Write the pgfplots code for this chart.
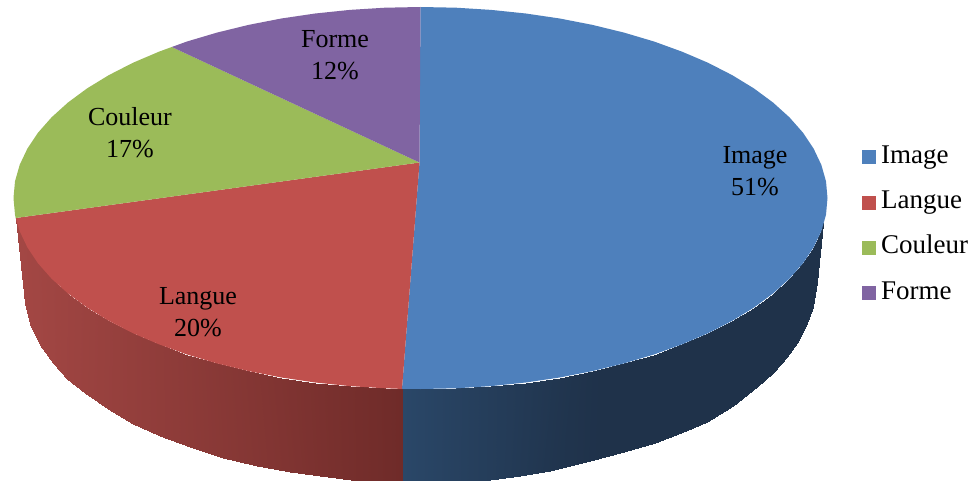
\documentclass[border=0pt]{standalone}
\usepackage{fontspec}
\setmainfont{Liberation Serif}
\usepackage{pgfplots}
\pgfplotsset{compat=1.18}
\definecolor{pieblue}{RGB}{78,128,188}
\definecolor{piered}{RGB}{192,80,77}
\definecolor{piegreen}{RGB}{155,187,89}
\definecolor{piepurple}{RGB}{128,100,162}
\pgfplotsset{
  colormap={blueside}{rgb255=(42,71,104) rgb255=(31,50,74)},
  colormap={redside}{rgb255=(111,43,41) rgb255=(163,71,68)},
}
\newcommand{\labelfont}{\fontsize{26}{32}\selectfont}

\begin{document}
\begin{tikzpicture}
\begin{axis}[
    scale only axis, width=971pt, height=481pt,
    xmin=0, xmax=971, ymin=0, ymax=481,
    y dir=reverse, hide axis,
    point meta min=0, point meta max=1,
    legend image code/.code={\fill[#1] (0pt,-7pt) rectangle (14pt,7pt); \path (19pt,0pt);},
    legend cell align=left,
    legend style={at={(axis cs:862,145)}, anchor=north west, draw=none, fill=none,
        font=\fontsize{27}{32}\selectfont, row sep=21.3pt, inner sep=0pt,
        nodes={inner sep=0pt, text height=18pt, text depth=6pt}},
]
% side wall, blue part
\addplot[surf, shader=interp, forget plot, colormap name=blueside, mesh/rows=2,
    mesh/ordering=x varies, point meta=explicit] table[meta=c] {
x y c
402 388.9 0
420.5 389 .10
456 388.3 .29
491.2 386.1 .47
525.8 382.5 .65
559.7 377.5 .83
592.5 371.1 .98
624 363.4 1
654 354.5 1
682.1 344.3 1
708.3 333.1 1
732.3 320.8 1
753.9 307.6 1
773 293.5 1
789.4 278.7 1
803 263.3 1
813.6 247.4 1
821.3 231.2 1
823 224 1
823 223 1
402 483 0
420.5 483 .10
455.4 482.2 .29
490 479.5 .47
520 476 .65
550 470.5 .83
590 461.2 .98
620 452.8 1
655 442.5 1
686 430.5 1
707 422 1
733 405.5 1
757 387 1
773 373 1
787 357 1
797 343 1
807 323 1
813 307 1
816.7 282 1
823 223.5 1
};
% side wall, red part
\addplot[surf, shader=interp, forget plot, colormap name=redside, mesh/rows=2,
    mesh/ordering=x varies, point meta=explicit] table[meta=c] {
x y c
402 388.9 0
385 388.3 .045
349.8 386.1 .137
315.2 382.5 .227
281.3 377.5 .316
248.5 371.1 .402
217 363.4 .484
187 354.5 .563
158.9 344.3 .636
132.7 333.1 .705
108.7 320.8 .768
87.1 307.6 .824
68 293.5 .874
51.6 278.7 .917
38 263.3 .953
27.4 247.4 .981
19.7 231.2 1
17 224 1
15.7 218 1
402 483 0
385.6 482 .045
351.1 479.5 .137
320 476.3 .227
290 471.8 .316
257 466 .402
223 458 .484
190 446.5 .563
160 435.5 .636
133 423.5 .705
108 408.5 .768
85 393 .824
67 378.5 .874
53 363 .917
40 345 .953
30 323.5 .981
25 304 1
23 284 1
15.7 218.5 1
};
% top face
\addplot[fill=pieblue, draw=none] coordinates {
(419.5,162.5)(420.5,7)(456,7.7)(491.2,9.9)(525.8,13.5)(559.7,18.5)(592.5,24.9)
(624,32.6)(654,41.5)(682.1,51.7)(708.3,62.9)(732.3,75.2)(753.9,88.4)(773,102.5)
(789.4,117.3)(803,132.7)(813.6,148.6)(821.3,164.8)(826,181.3)(827.5,198)
(826,214.7)(821.3,231.2)(813.6,247.4)(803,263.3)(789.4,278.7)(773,293.5)
(753.9,307.6)(732.3,320.8)(708.3,333.1)(682.1,344.3)(654,354.5)(624,363.4)
(592.5,371.1)(559.7,377.5)(525.8,382.5)(491.2,386.1)(456,388.3)(420.5,389)(402,388.9)
} --cycle;
\addlegendentry{Image}
\addplot[fill=piered, draw=none] coordinates {
(419.5,162.5)(402,388.9)(385,388.3)(349.8,386.1)(315.2,382.5)(281.3,377.5)
(248.5,371.1)(217,363.4)(187,354.5)(158.9,344.3)(132.7,333.1)(108.7,320.8)
(87.1,307.6)(68,293.5)(51.6,278.7)(38,263.3)(27.4,247.4)(19.7,231.2)(15.7,218)
} --cycle;
\addlegendentry{Langue}
\addplot[fill=piegreen, draw=none] coordinates {
(419.5,162.5)(15.7,218)(15,214.7)(13.5,198)(15,181.3)(19.7,164.8)(27.4,148.6)
(38,132.7)(51.6,117.3)(68,102.5)(87.1,88.4)(108.7,75.2)(132.7,62.9)(158.9,51.7)(171.8,47)
} --cycle;
\addlegendentry{Couleur}
\addplot[fill=piepurple, draw=none] coordinates {
(419.5,162.5)(171.8,47)(187,41.5)(217,32.6)(248.5,24.9)(281.3,18.5)(315.2,13.5)
(349.8,9.9)(385,7.7)(420.5,7)
} --cycle;
\addlegendentry{Forme}
\node[font=\labelfont, align=center] at (axis cs:755,171) {Image\\51\%};
\node[font=\labelfont, align=center] at (axis cs:198,312) {Langue\\20\%};
\node[font=\labelfont, align=center] at (axis cs:130,133) {Couleur\\17\%};
\node[font=\labelfont, align=center] at (axis cs:335,55) {Forme\\12\%};
\end{axis}
\pgfresetboundingbox
\path[use as bounding box] (current axis.south west) rectangle (current axis.north east);
\end{tikzpicture}
\end{document}
